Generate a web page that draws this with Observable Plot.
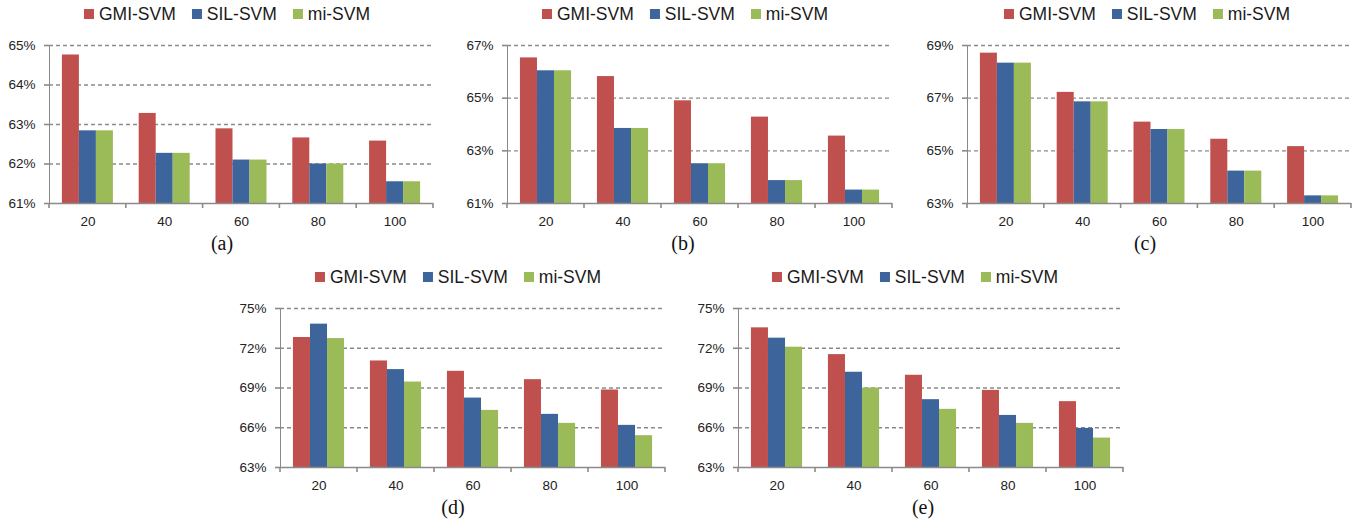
<!DOCTYPE html>
<html>
<head>
<meta charset="utf-8">
<script src="https://cdn.jsdelivr.net/npm/d3@7"></script>
<script src="https://cdn.jsdelivr.net/npm/@observablehq/plot@0.6"></script>
<style>
  html, body { margin: 0; padding: 0; background: #fff; }
  #root { position: relative; width: 1361px; height: 525px; overflow: hidden; font-family: "Liberation Sans", Arial, sans-serif; }
  .panel-svg { position: absolute; }
  .legend { position: absolute; display: flex; align-items: center; gap: 16px; transform: translateX(-50%); white-space: nowrap; font-size: 17.5px; line-height: 20px; color: #1a1a1a; }
  .legend .item { display: flex; align-items: center; gap: 5px; }
  .legend .sw { width: 10px; height: 10px; display: inline-block; }
  .caption { position: absolute; transform: translateX(-50%); font-family: "Liberation Serif", "Times New Roman", serif; font-size: 20px; line-height: 24px; color: #111; }
</style>
</head>
<body>
<div id="root"></div>
<script>
// ---- data ----
const categories = ["20", "40", "60", "80", "100"];
const seriesNames = ["GMI-SVM", "SIL-SVM", "mi-SVM"];
const seriesColors = ["#C0504D", "#3D659B", "#9BBB59"];

const aGMI = [64.76, 63.28, 62.89, 62.66, 62.58];
const aSIL = [62.84, 62.27, 62.10, 62.00, 61.55];
const aMI  = [62.84, 62.27, 62.10, 62.00, 61.55];
const aTicks = [61, 62, 63, 64, 65];

const bGMI = [66.53, 65.82, 64.90, 64.28, 63.56];
const bSIL = [66.04, 63.85, 62.51, 61.87, 61.51];
const bMI  = [66.04, 63.85, 62.51, 61.87, 61.51];
const bTicks = [61, 63, 65, 67];

const cGMI = [68.71, 67.22, 66.09, 65.44, 65.16];
const cSIL = [68.33, 66.86, 65.81, 64.23, 63.29];
const cMI  = [68.33, 66.86, 65.81, 64.23, 63.29];
const cTicks = [63, 65, 67, 69];

const dGMI = [72.81, 71.04, 70.26, 69.63, 68.85];
const dSIL = [73.82, 70.39, 68.24, 67.01, 66.18];
const dMI  = [72.73, 69.45, 67.31, 66.33, 65.40];
const dTicks = [63, 66, 69, 72, 75];

const eGMI = [73.54, 71.52, 69.96, 68.82, 67.97];
const eSIL = [72.76, 70.19, 68.12, 66.93, 65.95];
const eMI  = [72.08, 69.00, 67.39, 66.33, 65.22];
const eTicks = [63, 66, 69, 72, 75];

const captions = ["(a)", "(b)", "(c)", "(d)", "(e)"];

// ---- layout ----
const panels = [
  { values: [aGMI, aSIL, aMI], ticks: aTicks, left: 0,   top: 30,  width: 450, height: 205, mL: 49, mR: 17, mT: 15, mB: 32, legendX: 227, legendTop: 4,   capX: 222, capTop: 231 },
  { values: [bGMI, bSIL, bMI], ticks: bTicks, left: 450, top: 30,  width: 450, height: 205, mL: 57, mR: 8,  mT: 15, mB: 32, legendX: 685, legendTop: 4,   capX: 683, capTop: 231 },
  { values: [cGMI, cSIL, cMI], ticks: cTicks, left: 900, top: 30,  width: 461, height: 205, mL: 67, mR: 10, mT: 15, mB: 32, legendX: 1147, legendTop: 4,  capX: 1145, capTop: 231 },
  { values: [dGMI, dSIL, dMI], ticks: dTicks, left: 220, top: 290, width: 460, height: 205, mL: 60, mR: 15, mT: 18, mB: 28, legendX: 458, legendTop: 267, capX: 453, capTop: 495 },
  { values: [eGMI, eSIL, eMI], ticks: eTicks, left: 680, top: 290, width: 460, height: 205, mL: 58, mR: 17, mT: 18, mB: 28, legendX: 915, legendTop: 267, capX: 923, capTop: 495 }
];

const root = document.getElementById("root");
const gray = "#8a8a8a";

panels.forEach((p, pi) => {
  const rows = [];
  p.values.forEach((arr, si) => arr.forEach((v, ci) => rows.push({ cat: categories[ci], series: seriesNames[si], si, value: v })));
  const lo = d3.min(p.ticks), hi = d3.max(p.ticks);
  const bandW = (p.width - p.mL - p.mR) / categories.length;
  const bw = bandW * 0.2214;
  const g0 = (bandW - 3 * bw) / 2;

  const barMarks = seriesNames.map((s, i) =>
    Plot.barY(rows.filter(r => r.series === s), {
      x: "cat", y1: () => lo, y2: "value", fill: "series",
      insetLeft: g0 + i * bw, insetRight: bandW - g0 - (i + 1) * bw
    })
  );

  const chart = Plot.plot({
    width: p.width, height: p.height,
    marginLeft: p.mL, marginRight: p.mR, marginTop: p.mT, marginBottom: p.mB,
    style: { fontFamily: "'Liberation Sans', Arial, sans-serif", fontSize: "13.5px", color: gray, background: "transparent", overflow: "visible" },
    x: { type: "band", domain: categories, padding: 0, round: false, tickSize: 0, tickPadding: 13, label: null },
    y: { domain: [lo, hi], ticks: p.ticks, tickFormat: d => d + "%", tickSize: 5, tickPadding: 9, label: null, line: true },
    color: { domain: seriesNames, range: seriesColors },
    marks: [
      Plot.ruleY(p.ticks.filter(t => t !== lo), { stroke: gray, strokeWidth: 1.4, strokeDasharray: "4,3" }),
      ...barMarks,
      Plot.ruleY([lo], { stroke: gray, strokeWidth: 1.6 })
    ]
  });

  // x-axis tick marks at category boundaries, from the plot's own scales
  const xs = chart.scale("x"), ys = chart.scale("y");
  const r0 = xs.range[0], r1 = xs.range[1];
  const step = (r1 - r0) / categories.length;
  const yb = ys.range[0];
  const sel = d3.select(chart);
  const tg = sel.append("g").attr("stroke", gray).attr("stroke-width", 1.6);
  d3.range(categories.length + 1).forEach(i => {
    tg.append("line").attr("x1", r0 + i * step).attr("x2", r0 + i * step).attr("y1", yb).attr("y2", yb + 5);
  });
  sel.selectAll("text").attr("fill", "#222").attr("font-size", "13.5px");
  sel.selectAll('[aria-label="y-axis tick"], [aria-label="y-axis line"]').attr("stroke-width", 1.6);

  chart.classList.add("panel-svg");
  chart.style.left = p.left + "px";
  chart.style.top = p.top + "px";
  root.appendChild(chart);

  // legend
  const lg = document.createElement("div");
  lg.className = "legend";
  lg.style.left = p.legendX + "px";
  lg.style.top = p.legendTop + "px";
  seriesNames.forEach((s, i) => {
    const it = document.createElement("span");
    it.className = "item";
    const sw = document.createElement("span");
    sw.className = "sw";
    sw.style.background = seriesColors[i];
    const tx = document.createElement("span");
    tx.textContent = s;
    it.appendChild(sw); it.appendChild(tx);
    lg.appendChild(it);
  });
  root.appendChild(lg);

  // caption
  const cap = document.createElement("div");
  cap.className = "caption";
  cap.style.left = p.capX + "px";
  cap.style.top = p.capTop + "px";
  cap.textContent = captions[pi];
  root.appendChild(cap);
});
</script>
</body>
</html>
